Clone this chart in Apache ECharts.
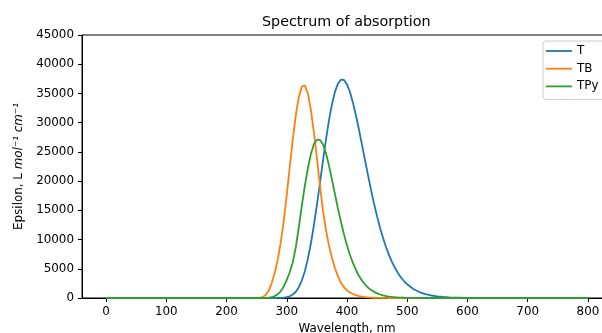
<!DOCTYPE html>
<html>
<head>
<meta charset="utf-8">
<script src="https://cdn.jsdelivr.net/npm/echarts@6/dist/echarts.min.js"></script>
<style>
html,body{margin:0;padding:0;background:#fff;}
#chart{width:602px;height:333px;}
</style>
</head>
<body>
<div id="chart"></div>
<script>
// Wavelengths (nm) shared by all series
const wavelengths = [0,100,200,240,
  250,255,260,265,270,275,280,285,290,295,300,305,310,315,320,325,330,335,340,345,350,
  355,360,365,370,375,380,385,390,395,400,405,410,415,420,425,430,435,440,445,450,
  455,460,465,470,475,480,485,490,495,500,
  510,520,530,540,550,560,570,580,590,600,
  650,700,800];

// Epsilon values
const seriesT = [0,0,0,0,
  0,0,0,0,0,1,3,9,24,61,140,297,585,1070,1850,2990,4590,6700,9320,12420,15910,
  19630,23400,27040,30340,33120,35270,36700,37370,37300,36550,35210,33380,31180,28750,26160,23540,20950,18450,16110,13950,
  11980,10220,8650,7290,6100,5080,4210,3470,2860,2340,
  1550,1020,670,430,280,180,114,73,47,30,
  3,0,0];

const seriesTB = [0,0,0,0,
  5,40,170,520,1250,2550,4300,6600,9500,13200,17700,22500,27200,31300,34400,36150,36380,35000,32200,28400,24000,
  19300,15000,11700,9000,6900,5100,3700,2600,1850,1300,950,680,480,330,220,150,100,65,40,25,
  15,10,5,3,1,0,0,0,0,0,
  0,0,0,0,0,0,0,0,0,0,
  0,0,0];

const seriesTPy = [0,0,0,0,
  0,3,10,30,60,150,330,650,1150,1950,3100,4400,6100,8700,12100,15800,19200,22200,24600,26300,27100,
  27050,26300,24800,22700,20300,17800,15300,13000,10900,9000,7350,5950,4750,3750,2950,2300,1780,1370,1050,800,
  600,450,330,240,175,125,90,62,43,30,
  14,6,2,0,0,0,0,0,0,0,
  0,0,0];

const xTicks = [0,100,200,300,400,500,600,700,800];
const seriesNames = ['T','TB','TPy'];
const colors = ['#1f77b4','#ff7f0e','#2ca02c'];

const pair = (ys) => wavelengths.map((x, i) => [x, ys[i]]);

const chart = echarts.init(document.getElementById('chart'), null, {renderer:'canvas'});
const FONT = 'DejaVu Sans';
chart.setOption({
  animation: false,
  backgroundColor: '#ffffff',
  title: {
    text: 'Spectrum of absorption',
    left: 262, top: 15, padding: 0,
    textStyle: {fontFamily: FONT, fontSize: 14.3, fontWeight: 'normal', color: '#000'}
  },
  legend: {
    data: seriesNames,
    orient: 'vertical',
    left: 543, top: 41,
    padding: [3, 8, 6, 3],
    icon: 'rect',
    itemWidth: 26, itemHeight: 1.8, itemGap: 3.7,
    backgroundColor: 'rgba(255,255,255,0.8)',
    borderColor: '#cccccc', borderWidth: 1, borderRadius: 3,
    textStyle: {fontFamily: FONT, fontSize: 11.9, color: '#000', lineHeight: 14}
  },
  grid: {
    left: 82, top: 35, width: 530, height: 263,
    outerBoundsMode: 'none', containLabel: false,
    show: true, borderColor: '#000', borderWidth: 1, backgroundColor: 'transparent'
  },
  xAxis: {
    type: 'value', min: -40, max: 840,
    name: 'Wavelength, nm', nameLocation: 'middle', nameGap: 23,
    nameTextStyle: {fontFamily: FONT, fontSize: 11.9, color: '#000'},
    axisLine: {show: true, onZero: false, lineStyle: {color: '#000', width: 1}},
    axisTick: {show: true, length: 4, inside: false, customValues: xTicks, lineStyle: {color: '#000'}},
    axisLabel: {customValues: xTicks, margin: 8, fontFamily: FONT, fontSize: 11.9, color: '#000'},
    splitLine: {show: false}
  },
  yAxis: {
    type: 'value', min: 0, max: 45000, interval: 5000,
    name: 'Epsilon, L {i|mol⁻¹ cm⁻¹}', nameLocation: 'middle', nameGap: 56, nameRotate: 90,
    nameTextStyle: {fontFamily: FONT, fontSize: 11.9, color: '#000',
      rich: {i: {fontFamily: FONT, fontSize: 11.9, fontStyle: 'italic', color: '#000'}}},
    axisLine: {show: true, onZero: false, lineStyle: {color: '#000', width: 1}},
    axisTick: {show: true, length: 4, inside: false, lineStyle: {color: '#000'}},
    axisLabel: {margin: 8, fontFamily: FONT, fontSize: 11.9, color: '#000',
      formatter: (v) => String(v)},
    splitLine: {show: false}
  },
  series: [
    {name: seriesNames[0], type: 'line', data: pair(seriesT), symbol: 'none', showSymbol: false,
     lineStyle: {color: colors[0], width: 1.8}, itemStyle: {color: colors[0]}, z: 2},
    {name: seriesNames[1], type: 'line', data: pair(seriesTB), symbol: 'none', showSymbol: false,
     lineStyle: {color: colors[1], width: 1.8}, itemStyle: {color: colors[1]}, z: 3},
    {name: seriesNames[2], type: 'line', data: pair(seriesTPy), symbol: 'none', showSymbol: false,
     lineStyle: {color: colors[2], width: 1.8}, itemStyle: {color: colors[2]}, z: 4}
  ]
});
</script>
</body>
</html>
